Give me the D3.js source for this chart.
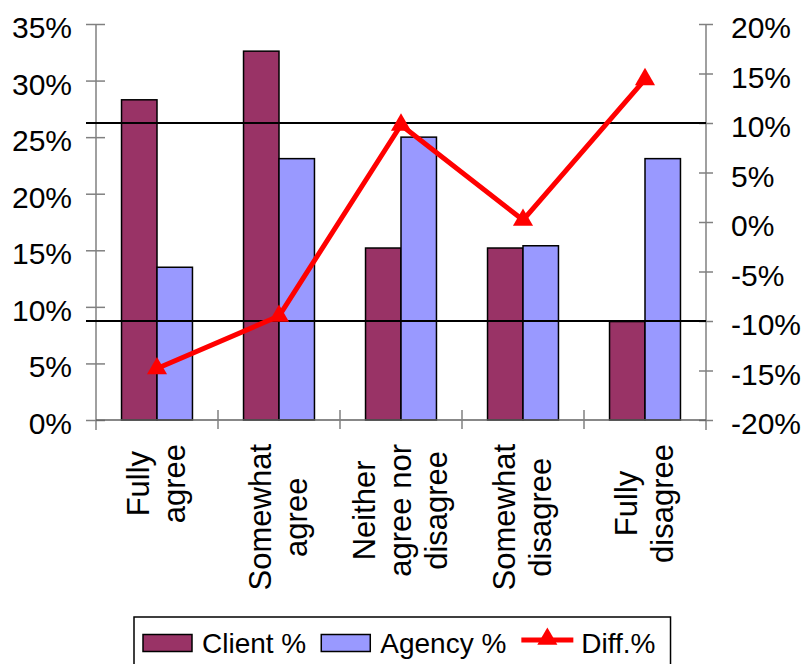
<!DOCTYPE html>
<html>
<head>
<meta charset="utf-8">
<script src="https://cdn.jsdelivr.net/npm/d3@7"></script>
<style>
  html, body { margin: 0; padding: 0; background: #fff; }
  svg { display: block; font-family: "Liberation Sans", Arial, sans-serif; }
</style>
</head>
<body>
<svg id="chart" width="802" height="664"></svg>
<script>
// ---- data ----
const categories = ["Fully agree", "Somewhat agree", "Neither agree nor disagree", "Somewhat disagree", "Fully disagree"];
const categoryLines = [["Fully", "agree"], ["Somewhat", "agree"], ["Neither", "agree nor", "disagree"], ["Somewhat", "disagree"], ["Fully", "disagree"]];
const seriesNames = ["Client %", "Agency %"];
const clientValues = [0.283, 0.326, 0.152, 0.152, 0.087];
const agencyValues = [0.135, 0.231, 0.250, 0.154, 0.231];
const diffValues = [-0.148, -0.095, 0.098, 0.002, 0.144];
const diffName = "Diff.%";
const leftTicks = [0, 0.05, 0.10, 0.15, 0.20, 0.25, 0.30, 0.35];
const rightTicks = [-0.20, -0.15, -0.10, -0.05, 0, 0.05, 0.10, 0.15, 0.20];
const refLines = [-0.10, 0.10]; // on right axis

// ---- layout ----
const svg = d3.select("#chart");
const pLeft = 96, pRight = 706, pTop = 24, pBottom = 420;
const colors = { "Client %": "#993366", "Agency %": "#9999ff" };
const pct = d => Math.round(d * 100) + "%";

const x = d3.scaleBand().domain(categories).range([pLeft, pRight]).padding(0);
const xs = d3.scaleBand().domain(seriesNames).range([0, x.bandwidth()]).paddingInner(0).paddingOuter(0.72);
const yL = d3.scaleLinear().domain([0, 0.35]).range([pBottom, pTop]);
const yR = d3.scaleLinear().domain([-0.20, 0.20]).range([pBottom, pTop]);

svg.append("rect").attr("width", 802).attr("height", 664).attr("fill", "#fff");

// bars
const rows = categories.map((c, i) => ({ cat: c, vals: [clientValues[i], agencyValues[i]] }));
const groups = svg.append("g").selectAll("g").data(rows).join("g")
  .attr("transform", d => `translate(${x(d.cat)},0)`);
groups.selectAll("rect").data(d => d.vals.map((v, j) => ({ s: seriesNames[j], v })))
  .join("rect")
  .attr("x", d => xs(d.s))
  .attr("width", xs.bandwidth())
  .attr("y", d => yL(d.v))
  .attr("height", d => yL(0) - yL(d.v))
  .attr("fill", d => colors[d.s])
  .attr("stroke", "#000")
  .attr("stroke-width", 1.5);

// left axis
const axL = svg.append("g").attr("transform", `translate(${pLeft},0)`)
  .call(d3.axisLeft(yL).tickValues(leftTicks).tickFormat(pct).tickSize(0).tickPadding(24));
axL.select(".domain").attr("stroke", "#808080").attr("stroke-width", 1.5)
  .attr("d", `M0,${pTop}V${pBottom + 10}`);
axL.selectAll(".tick line").attr("x1", -10).attr("x2", 9).attr("stroke", "#808080").attr("stroke-width", 1.5);
axL.selectAll(".tick text").attr("font-size", 30).attr("fill", "#000").attr("dy", "0.45em");

// right axis
const axR = svg.append("g").attr("transform", `translate(${pRight},0)`)
  .call(d3.axisRight(yR).tickValues(rightTicks).tickFormat(pct).tickSize(0).tickPadding(25));
axR.select(".domain").attr("stroke", "#808080").attr("stroke-width", 1.5)
  .attr("d", `M0,${pTop}V${pBottom + 10}`);
axR.selectAll(".tick line").attr("x1", -7).attr("x2", 7).attr("stroke", "#808080").attr("stroke-width", 1.5);
axR.selectAll(".tick text").attr("font-size", 30).attr("fill", "#000").attr("dy", "0.45em");

// x axis
const axX = svg.append("g").attr("transform", `translate(0,${pBottom})`)
  .call(d3.axisBottom(x).tickValues([]).tickSize(0));
axX.select(".domain").attr("stroke", "#606060").attr("stroke-width", 1.5)
  .attr("d", `M${pLeft},0H${pRight}`);
axX.selectAll(".sep").data(categories.slice(1)).join("line").attr("class", "sep")
  .attr("x1", d => x(d)).attr("x2", d => x(d))
  .attr("y1", -10).attr("y2", 9)
  .attr("stroke", "#808080").attr("stroke-width", 1.5);

// x labels (rotated, multi-line, centered)
const lineH = 36;
categories.forEach((c, i) => {
  const lines = categoryLines[i];
  const cx = x(c) + x.bandwidth() / 2;
  const g = svg.append("g");
  const texts = g.selectAll("text").data(lines).join("text")
    .attr("font-size", 31).attr("fill", "#000").attr("text-anchor", "middle")
    .attr("x", 0)
    .attr("y", (d, k) => (k - (lines.length - 1) / 2) * lineH + 10)
    .text(d => d);
  let L = 0;
  texts.each(function () { L = Math.max(L, this.getComputedTextLength()); });
  g.attr("transform", `translate(${cx},${pBottom + 24 + L / 2}) rotate(-90)`);
});

// reference lines
svg.append("g").selectAll("line").data(refLines).join("line")
  .attr("x1", pLeft - 10).attr("x2", pRight)
  .attr("y1", d => yR(d)).attr("y2", d => yR(d))
  .attr("stroke", "#000").attr("stroke-width", 2);

// diff line
const pts = categories.map((c, i) => ({ cat: c, v: diffValues[i] }));
const line = d3.line().x(d => x(d.cat) + x.bandwidth() / 2).y(d => yR(d.v));
svg.append("path").datum(pts).attr("d", line)
  .attr("fill", "none").attr("stroke", "#ff0000").attr("stroke-width", 5).attr("stroke-linejoin", "round");
const tri = d3.symbol(d3.symbolTriangle, 175);
svg.append("g").selectAll("path").data(pts).join("path")
  .attr("d", tri)
  .attr("transform", d => `translate(${x(d.cat) + x.bandwidth() / 2},${yR(d.v)})`)
  .attr("fill", "#ff0000");

// legend
const lg = svg.append("g");
const legendItems = [
  { name: seriesNames[0], type: "rect", color: colors[seriesNames[0]] },
  { name: seriesNames[1], type: "rect", color: colors[seriesNames[1]] },
  { name: diffName, type: "line", color: "#ff0000" }
];
const boxX = 134, boxY = 617, midY = 643;
let cur = boxX + 9;
legendItems.forEach((it, i) => {
  if (it.type === "rect") {
    lg.append("rect").attr("x", cur).attr("y", midY - 8.5).attr("width", 49).attr("height", 17)
      .attr("fill", it.color).attr("stroke", "#000").attr("stroke-width", 1.5);
    cur += 49 + 10;
  } else {
    lg.append("line").attr("x1", cur).attr("x2", cur + 52).attr("y1", midY - 3).attr("y2", midY - 3)
      .attr("stroke", it.color).attr("stroke-width", 5);
    lg.append("path").attr("d", tri).attr("transform", `translate(${cur + 26},${midY - 4})`).attr("fill", it.color);
    cur += 52 + 8;
  }
  const t = lg.append("text").attr("x", cur).attr("y", midY + 10).attr("font-size", 28).attr("fill", "#000").text(it.name);
  cur += t.node().getComputedTextLength() + 15;
});
lg.insert("rect", ":first-child").attr("x", boxX).attr("y", boxY).attr("width", cur - boxX).attr("height", 60)
  .attr("fill", "#fff").attr("stroke", "#000").attr("stroke-width", 1.5);
</script>
</body>
</html>
